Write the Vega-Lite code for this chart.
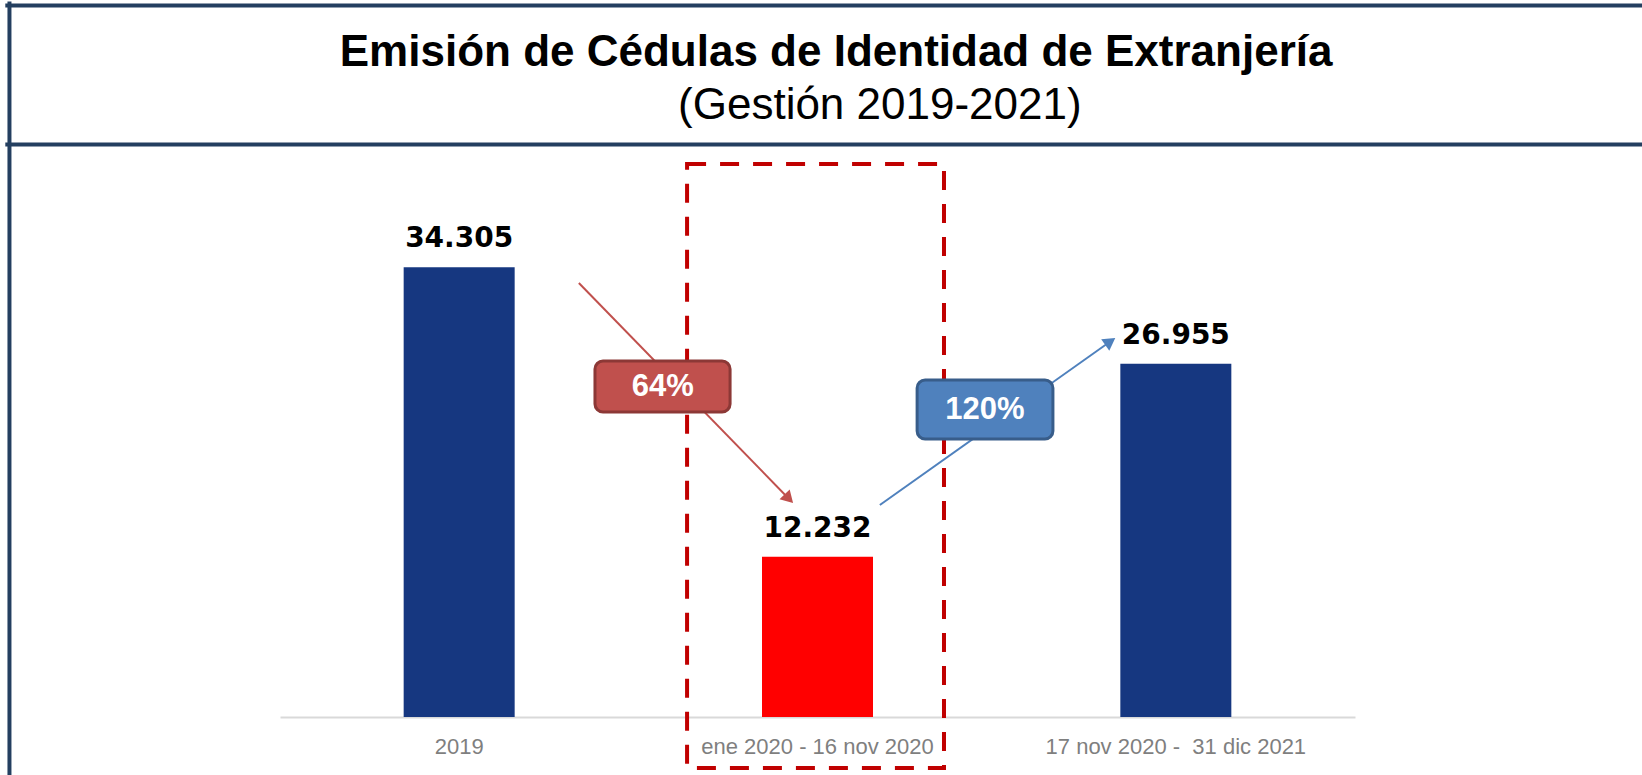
{
  "$schema": "https://vega.github.io/schema/vega-lite/v6.json",
  "width": 1075,
  "height": 555,
  "autosize": {"type": "none"},
  "padding": {"left": 280, "right": 287, "top": 162, "bottom": 58},
  "background": "white",
  "config": {
    "view": {"stroke": null},
    "locale": {"number": {"decimal": ",", "thousands": ".", "grouping": [3], "currency": ["", ""]}}
  },
  "datasets": {
    "emision": [
      {"periodo": "2019", "valor": 34305, "tipo": "normal"},
      {"periodo": "ene 2020 - 16 nov 2020", "valor": 12232, "tipo": "caida"},
      {"periodo": "17 nov 2020 -\u00a0 31 dic 2021", "valor": 26955, "tipo": "normal"}
    ],
    "titulos": [
      {"nivel": "titulo", "texto": "Emisión de Cédulas de Identidad de Extranjería", "x": 1.552, "y": 49661},
      {"nivel": "subtitulo", "texto": "(Gestión 2019-2021)", "x": 1.674, "y": 45617}
    ],
    "flechas": [
      {"cambio": "caida", "x": 0.834, "y": 33107, "x2": 1.420, "y2": 16653},
      {"cambio": "alza", "x": 1.674, "y": 16172, "x2": 2.317, "y2": 28645}
    ],
    "cajas": [
      {"cambio": "caida", "etiqueta": "64%", "x": 0.879, "x2": 1.256, "y": 27157, "y2": 23267, "xt": 1.068, "yt": 25150},
      {"cambio": "alza", "etiqueta": "120%", "x": 1.778, "x2": 2.157, "y": 25708, "y2": 21207, "xt": 1.967, "yt": 23420}
    ],
    "recuadro": [
      {"x": 1.136, "x2": 1.853, "y": 42185, "y2": -3890}
    ],
    "marco": [
      {"parte": "superior", "x": -0.761, "x2": 3.81, "y": 54276, "y2": 54276},
      {"parte": "divisor", "x": -0.761, "x2": 3.81, "y": 43672, "y2": 43672},
      {"parte": "izquierda", "x": -0.755, "x2": -0.755, "y": 54430, "y2": -4500}
    ]
  },
  "resolve": {"scale": {"x": "independent", "color": "independent"}},
  "layer": [
    {
      "data": {"name": "emision"},
      "encoding": {
        "x": {
          "field": "periodo", "type": "nominal", "sort": null,
          "scale": {"paddingInner": 0, "paddingOuter": 0},
          "axis": {
            "title": null, "domainColor": "#D9D9D9", "domainWidth": 2, "ticks": false, "tickSize": 0,
            "labelAngle": 0, "labelFont": "Liberation Sans", "labelFontSize": 22, "labelColor": "#7F7F7F",
            "labelBaseline": "alphabetic", "labelPadding": 36, "labelLimit": 0, "grid": false
          }
        },
        "y": {
          "field": "valor", "type": "quantitative",
          "scale": {"domain": [0, 42337], "nice": false, "zero": false},
          "axis": null
        }
      },
      "layer": [
        {
          "mark": {"type": "bar", "width": 111},
          "encoding": {
            "color": {"field": "tipo", "type": "nominal", "scale": {"domain": ["normal", "caida"], "range": ["#163780", "#FF0000"]}, "legend": null}
          }
        },
        {
          "mark": {"type": "text", "font": "DejaVu Sans", "fontWeight": "bold", "fontSize": 28, "color": "#000000", "baseline": "alphabetic", "dy": -20},
          "encoding": {"text": {"field": "valor", "type": "quantitative", "format": ",d"}}
        }
      ]
    },
    {
      "layer": [
        {
          "data": {"name": "marco"},
          "mark": {"type": "rule", "color": "#243F60", "strokeWidth": 4, "strokeCap": "square"},
          "encoding": {
            "x": {"field": "x", "type": "quantitative", "scale": {"domain": [0, 3], "nice": false, "zero": false}, "axis": null},
            "x2": {"field": "x2"},
            "y": {"field": "y", "type": "quantitative", "scale": {"domain": [0, 42337], "nice": false, "zero": false}, "axis": null},
            "y2": {"field": "y2"}
          }
        },
        {
          "data": {"name": "titulos"},
          "transform": [{"filter": "datum.nivel === 'titulo'"}],
          "mark": {"type": "text", "font": "Liberation Sans", "fontWeight": "bold", "fontSize": 44, "color": "#000000", "baseline": "alphabetic", "align": "center"},
          "encoding": {
            "x": {"field": "x", "type": "quantitative", "scale": {"domain": [0, 3], "nice": false, "zero": false}, "axis": null},
            "y": {"field": "y", "type": "quantitative", "scale": {"domain": [0, 42337], "nice": false, "zero": false}, "axis": null},
            "text": {"field": "texto", "type": "nominal"}
          }
        },
        {
          "data": {"name": "titulos"},
          "transform": [{"filter": "datum.nivel === 'subtitulo'"}],
          "mark": {"type": "text", "font": "Liberation Sans", "fontWeight": "normal", "fontSize": 44, "color": "#000000", "baseline": "alphabetic", "align": "center"},
          "encoding": {
            "x": {"field": "x", "type": "quantitative", "scale": {"domain": [0, 3], "nice": false, "zero": false}, "axis": null},
            "y": {"field": "y", "type": "quantitative", "scale": {"domain": [0, 42337], "nice": false, "zero": false}, "axis": null},
            "text": {"field": "texto", "type": "nominal"}
          }
        },
        {
          "data": {"name": "recuadro"},
          "mark": {"type": "rect", "fillOpacity": 0, "stroke": "#C00000", "strokeWidth": 4, "strokeDash": [19, 14]},
          "encoding": {
            "x": {"field": "x", "type": "quantitative", "scale": {"domain": [0, 3], "nice": false, "zero": false}, "axis": null},
            "x2": {"field": "x2"},
            "y": {"field": "y", "type": "quantitative", "scale": {"domain": [0, 42337], "nice": false, "zero": false}, "axis": null},
            "y2": {"field": "y2"}
          }
        },
        {
          "data": {"name": "flechas"},
          "mark": {"type": "rule", "strokeWidth": 2},
          "encoding": {
            "x": {"field": "x", "type": "quantitative", "scale": {"domain": [0, 3], "nice": false, "zero": false}, "axis": null},
            "x2": {"field": "x2"},
            "y": {"field": "y", "type": "quantitative", "scale": {"domain": [0, 42337], "nice": false, "zero": false}, "axis": null},
            "y2": {"field": "y2"},
            "color": {"field": "cambio", "type": "nominal", "scale": {"domain": ["caida", "alza"], "range": ["#C0504D", "#4F81BD"]}, "legend": null}
          }
        },
        {
          "data": {"name": "flechas"},
          "transform": [{"filter": "datum.cambio === 'caida'"}],
          "mark": {"type": "point", "shape": "triangle-up", "filled": true, "size": 200, "angle": 136, "opacity": 1},
          "encoding": {
            "x": {"field": "x2", "type": "quantitative", "scale": {"domain": [0, 3], "nice": false, "zero": false}, "axis": null},
            "y": {"field": "y2", "type": "quantitative", "scale": {"domain": [0, 42337], "nice": false, "zero": false}, "axis": null},
            "color": {"field": "cambio", "type": "nominal", "scale": {"domain": ["caida", "alza"], "range": ["#C0504D", "#4F81BD"]}, "legend": null}
          }
        },
        {
          "data": {"name": "flechas"},
          "transform": [{"filter": "datum.cambio === 'alza'"}],
          "mark": {"type": "point", "shape": "triangle-up", "filled": true, "size": 200, "angle": 55, "opacity": 1},
          "encoding": {
            "x": {"field": "x2", "type": "quantitative", "scale": {"domain": [0, 3], "nice": false, "zero": false}, "axis": null},
            "y": {"field": "y2", "type": "quantitative", "scale": {"domain": [0, 42337], "nice": false, "zero": false}, "axis": null},
            "color": {"field": "cambio", "type": "nominal", "scale": {"domain": ["caida", "alza"], "range": ["#C0504D", "#4F81BD"]}, "legend": null}
          }
        },
        {
          "data": {"name": "cajas"},
          "mark": {"type": "rect", "cornerRadius": 8, "strokeWidth": 3},
          "encoding": {
            "x": {"field": "x", "type": "quantitative", "scale": {"domain": [0, 3], "nice": false, "zero": false}, "axis": null},
            "x2": {"field": "x2"},
            "y": {"field": "y", "type": "quantitative", "scale": {"domain": [0, 42337], "nice": false, "zero": false}, "axis": null},
            "y2": {"field": "y2"},
            "fill": {"field": "cambio", "type": "nominal", "scale": {"domain": ["caida", "alza"], "range": ["#C0504D", "#4F81BD"]}, "legend": null},
            "stroke": {"field": "cambio", "type": "nominal", "scale": {"domain": ["caida", "alza"], "range": ["#8C3836", "#385D8A"]}, "legend": null}
          }
        },
        {
          "data": {"name": "cajas"},
          "mark": {"type": "text", "font": "Liberation Sans", "fontWeight": "bold", "fontSize": 31, "color": "#FFFFFF", "baseline": "middle", "align": "center"},
          "encoding": {
            "x": {"field": "xt", "type": "quantitative", "scale": {"domain": [0, 3], "nice": false, "zero": false}, "axis": null},
            "y": {"field": "yt", "type": "quantitative", "scale": {"domain": [0, 42337], "nice": false, "zero": false}, "axis": null},
            "text": {"field": "etiqueta", "type": "nominal"}
          }
        }
      ]
    }
  ]
}
